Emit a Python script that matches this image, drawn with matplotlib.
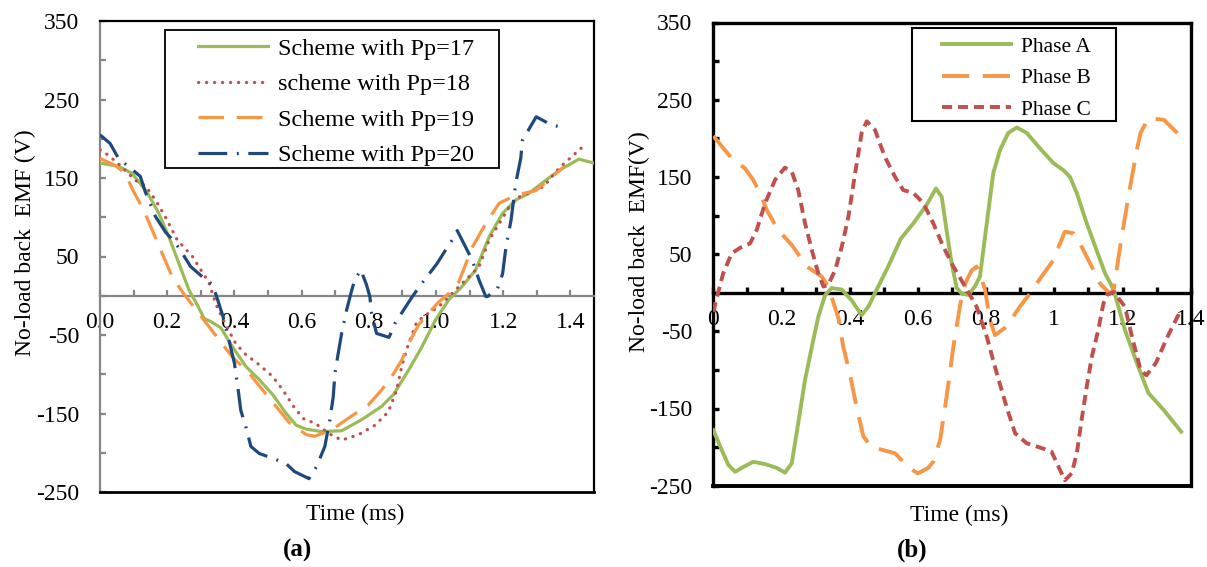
import matplotlib
matplotlib.use("Agg")
import matplotlib.pyplot as plt
from matplotlib.patches import Rectangle
from matplotlib.ticker import MultipleLocator, FixedLocator, FormatStrFormatter, FuncFormatter

plt.rcParams['font.family'] = ['Liberation Serif', 'DejaVu Serif']
plt.rcParams['axes.unicode_minus'] = False

# --------------------
# data, panel (a)
pp17_t = [0, .055, .095, .14, .175, .205, .235, .265, .29, .31, .33, .36, .394, .434, .474, .514,
          .554, .584, .614, .659, .719, .778, .838, .873, .918, .958, .998, 1.038, 1.078, 1.118,
          1.158, 1.198, 1.237, 1.275, 1.32, 1.367, 1.425, 1.47]
pp17_v = [169, 165, 156, 132, 105, 75, 41, 7, -12, -29, -33, -41, -65, -90, -107, -126,
          -150, -165, -170, -173, -172, -158, -141, -126, -95, -65, -31, -5, 12, 33,
          75, 105, 122, 130, 145, 160, 174, 169]

pp18_t = [0, .025, .06, .105, .135, .165, .195, .23, .275, .30, .325, .344, .374, .404, .434, .474,
          .514, .544, .579, .609, .639, .679, .719, .769, .818, .858, .883, .898, .918, .943, .978,
          1.008, 1.043, 1.088, 1.128, 1.158, 1.188, 1.218, 1.248, 1.32, 1.367, 1.437]
pp18_v = [186, 179, 166, 147, 140, 122, 100, 71, 50, 33, 16, -10, -37, -61, -75, -88,
          -103, -120, -143, -158, -162, -175, -184, -177, -165, -148, -120, -90, -61, -33, -22,
          -14, 1, 20, 37, 71, 92, 113, 126, 139, 163, 190]

pp19_t = [0, .045, .075, .095, .13, .155, .185, .215, .245, .284, .32, .354, .394, .444, .484, .524,
          .564, .614, .639, .689, .739, .799, .838, .868, .898, .918, .948, .978, 1.008, 1.038,
          1.068, 1.108, 1.148, 1.188, 1.237, 1.297, 1.38]
pp19_v = [175, 166, 156, 137, 109, 84, 54, 24, 5, -17, -37, -56, -78, -99, -120, -141,
          -162, -177, -179, -171, -156, -139, -120, -103, -82, -61, -37, -22, -8, 3,
          18, 62, 92, 118, 128, 134, 164]

pp20_t = [0, .03, .055, .095, .12, .135, .165, .195, .225, .245, .27, .305, .335, .35, .365, .385,
          .40, .41, .419, .434, .449, .474, .514, .554, .579, .622, .644, .669, .684, .694, .699,
          .709, .719, .734, .749, .758, .776, .793, .803, .808, .823, .86, .878, .928, .958, 1.003,
          1.028, 1.048, 1.063, 1.088, 1.108, 1.128, 1.148, 1.153, 1.183, 1.198, 1.208, 1.223,
          1.237, 1.252, 1.257, 1.298, 1.333, 1.367]
pp20_v = [205, 194, 175, 161, 152, 132, 101, 81, 67, 54, 37, 24, 14, -5, -25, -59,
          -86, -116, -146, -167, -192, -201, -207, -214, -224, -233, -218, -192, -158, -129, -99,
          -73, -48, -18, 7, 20, 33, 14, -1, -22, -48, -53, -35, -2, 16, 41,
          58, 71, 83, 62, 45, 20, -1, -1, 9, 28, 62, 96,
          143, 175, 198, 228, 220, 215]

# panel (b)
phA_t = [0, .025, .044, .064, .083, .117, .152, .186, .21, .23, .249, .269, .289, .308, .328, .347,
         .377, .406, .435, .455, .479, .513, .55, .587, .626, .653, .67, .684, .699, .714, .728,
         .748, .767, .782, .802, .821, .841, .865, .89, .919, .958, .997, 1.026, 1.046, 1.066,
         1.095, 1.124, 1.149, 1.174, 1.207, 1.242, 1.276, 1.321, 1.372]
phA_v = [-178, -204, -223, -232, -227, -219, -222, -227, -233, -221, -169, -113, -70, -31, -3, 6,
         4, -10, -29, -18, 4, 34, 70, 90, 114, 135, 124, 81, 38, 6, -1,
         -3, 8, 21, 90, 155, 185, 207, 214, 207, 187, 168, 159, 150, 129,
         90, 55, 25, 4, -48, -91, -130, -152, -180]

phB_t = [0, .054, .093, .117, .137, .157, .19, .23, .274, .318, .337, .367, .381, .40, .42, .44,
         .464, .533, .574, .60, .63, .645, .665, .684, .704, .723, .733, .743, .758, .772, .787,
         .797, .802, .811, .826, .86, .899, .929, .958, .997, 1.017, 1.031, 1.056, 1.075, 1.105,
         1.134, 1.162, 1.174, 1.196, 1.219, 1.242, 1.253, 1.276, 1.321, 1.372]
phB_v = [203, 174, 161, 146, 129, 107, 81, 62, 34, 21, 8, -33, -70, -104, -148, -186,
         -200, -208, -227, -234, -227, -219, -191, -135, -70, -18, 4, 16, 29, 34, 17,
         4, -10, -35, -55, -44, -18, -1, 18, 42, 64, 79, 77, 64, 38,
         12, -1, 4, 68, 129, 185, 207, 226, 224, 202]

phC_t = [0, .011, .029, .054, .078, .108, .127, .152, .181, .21, .23, .249, .269, .289, .308, .323,
         .337, .357, .377, .396, .416, .435, .45, .474, .503, .533, .557, .587, .616, .645, .674,
         .704, .733, .758, .772, .802, .831, .86, .885, .919, .968, .992, 1.012, 1.031, 1.051,
         1.066, 1.08, 1.095, 1.11, 1.129, 1.144, 1.154, 1.174, 1.207, 1.23, 1.253, 1.27, 1.298,
         1.332, 1.366]
phC_v = [-25, -5, 25, 51, 58, 64, 81, 116, 146, 162, 157, 133, 90, 55, 25, 8,
         10, 29, 60, 98, 155, 207, 222, 211, 176, 150, 133, 129, 116, 90, 60,
         34, 12, -7, -18, -57, -104, -148, -182, -195, -202, -206, -225, -243, -234,
         -208, -165, -122, -83, -48, -14, -3, 1, -18, -61, -100, -107, -91,
         -57, -27]

labels_a = ["Scheme with Pp=17", "scheme with Pp=18", "Scheme with Pp=19", "Scheme with Pp=20"]
labels_b = ["Phase A", "Phase B", "Phase C"]

GREEN = '#9BBB59'
RED = '#C0504D'
ORANGE = '#F79646'
BLUE = '#1F497D'

W, H = 1207, 567
fig = plt.figure(figsize=(W / 100, H / 100), dpi=100)


def px_box(x0, y0, x1, y1):
    # pixel box (top-left origin) -> figure fraction rect
    return [x0 / W, 1 - y1 / H, (x1 - x0) / W, (y1 - y0) / H]


def style_axes(ax, xmax, xfmt, axis_color, lw):
    ax.set_xlim(0, xmax)
    ax.set_ylim(-250, 350)
    ax.spines['bottom'].set_position(('data', 0))
    ax.spines['bottom'].set_color(axis_color)
    ax.spines['left'].set_color(axis_color)
    for s in ['bottom', 'left', 'top', 'right']:
        ax.spines[s].set_linewidth(lw)
    ax.spines['top'].set_color('black')
    ax.spines['right'].set_color('black')
    # border at the bottom of the plot area
    ax.plot([0, 1], [0, 0], transform=ax.transAxes, color='black', lw=lw + 0.4,
            clip_on=False, zorder=4, solid_capstyle='projecting')
    ax.xaxis.set_major_locator(MultipleLocator(0.2))
    ax.xaxis.set_minor_locator(MultipleLocator(0.1))
    ax.xaxis.set_major_formatter(xfmt)
    ax.yaxis.set_major_locator(FixedLocator(range(-250, 351, 100)))
    ax.yaxis.set_minor_locator(FixedLocator(range(-200, 351, 100)))
    ax.tick_params(axis='both', which='both', direction='in', length=4.5, width=lw,
                   color=axis_color, labelsize=17)
    ax.tick_params(axis='x', which='both', pad=12, top=False)
    ax.tick_params(axis='y', which='both', pad=15, right=False)


# --------------------
# (a)
ax_a = fig.add_axes(px_box(100, 21, 594, 492))
style_axes(ax_a, 1.47, FormatStrFormatter('%.1f'), '#868686', 1.6)
la = []
la += ax_a.plot(pp17_t, pp17_v, color=GREEN, lw=2.3, zorder=3)
la += ax_a.plot(pp18_t, pp18_v, color=RED, lw=2.3, dashes=(0.1, 2.4),
                dash_capstyle='round', zorder=3)
la += ax_a.plot(pp19_t, pp19_v, color=ORANGE, lw=2.3, dashes=(8, 4), zorder=3)
la += ax_a.plot(pp20_t, pp20_v, color=BLUE, lw=2.3, dashes=(9, 3, 0.6, 3), zorder=3)
ax_a.set_ylabel("No-load back  EMF (V)", fontsize=17)
ax_a.yaxis.set_label_coords(-0.13, 0.53)
ax_a.set_xlabel("Time (ms)", fontsize=17)
ax_a.xaxis.set_label_coords(0.516, -0.025)

r = px_box(165, 30, 499, 168)
ax_a.add_patch(Rectangle((r[0], r[1]), r[2], r[3], transform=fig.transFigure,
                         facecolor='white', edgecolor='black', lw=1.3,
                         clip_on=False, zorder=4))
ax_a.legend(la, labels_a, loc='center left', bbox_to_anchor=(198 / W, 1 - 102 / H),
            bbox_transform=fig.transFigure, frameon=False, borderpad=0, borderaxespad=0,
            handlelength=2.9, handletextpad=0.4, labelspacing=0.55, fontsize=17.5)

# --------------------
# (b)
ax_b = fig.add_axes(px_box(713.3, 22.5, 1190.7, 485.7))
style_axes(ax_b, 1.4, FuncFormatter(lambda v, p: f'{v:g}'), 'black', 2.4)
lb = []
lb += ax_b.plot(phA_t, phA_v, color=GREEN, lw=2.8, zorder=3)
lb += ax_b.plot(phB_t, phB_v, color=ORANGE, lw=2.8, dashes=(7, 3.5), zorder=3)
lb += ax_b.plot(phC_t, phC_v, color=RED, lw=2.8, dashes=(2.6, 1.5), zorder=3)
ax_b.set_ylabel("No-load back  EMF(V)", fontsize=17)
ax_b.yaxis.set_label_coords(-0.133, 0.528)
ax_b.set_xlabel("Time (ms)", fontsize=17)
ax_b.xaxis.set_label_coords(0.516, -0.042)

r = px_box(912, 28, 1116, 121)
ax_b.add_patch(Rectangle((r[0], r[1]), r[2], r[3], transform=fig.transFigure,
                         facecolor='white', edgecolor='black', lw=1.5,
                         clip_on=False, zorder=4))
ax_b.legend(lb, labels_b, loc='center left', bbox_to_anchor=(942 / W, 1 - 78 / H),
            bbox_transform=fig.transFigure, frameon=False, borderpad=0, borderaxespad=0,
            handlelength=3.2, handletextpad=0.45, labelspacing=0.53, fontsize=15.5)

fig.text(298 / W, 1 - 550 / H, "(a)", ha='center', va='center', fontsize=18, fontweight='bold')
fig.text(912 / W, 1 - 550 / H, "(b)", ha='center', va='center', fontsize=18, fontweight='bold')

fig.savefig("out.png", dpi=100, facecolor='white')
print("saved out.png")
